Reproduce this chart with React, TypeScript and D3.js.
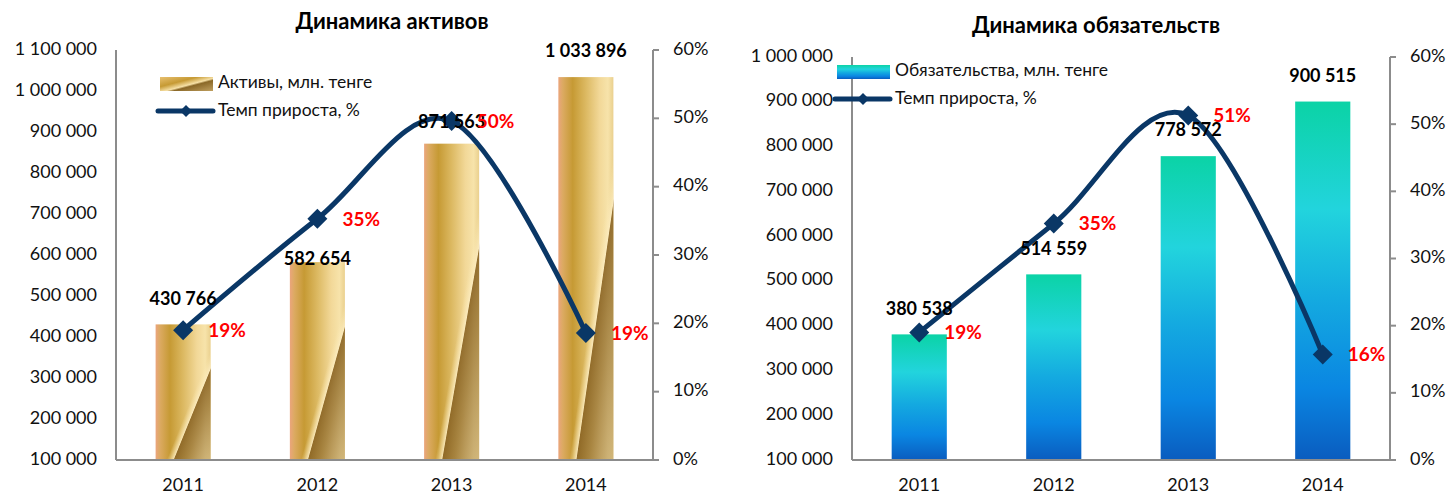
import React from 'react';
import * as d3 from 'd3';

// data
const years = ['2011', '2012', '2013', '2014'];
const assets = [430766, 582654, 871563, 1033896];
const assetsGrowth = [0.19, 0.353, 0.496, 0.186];
const liabilities = [380538, 514559, 778572, 900515];
const liabilitiesGrowth = [0.19, 0.352, 0.513, 0.157];
const assetsTicks = d3.range(100000, 1100001, 100000);
const liabilitiesTicks = d3.range(100000, 1000001, 100000);
const pctTicks = [0, 0.1, 0.2, 0.3, 0.4, 0.5, 0.6];

const FONT = 'Lato, Carlito, Calibri, sans-serif';
const AXIS = '#8c8c8c';
const LINE = '#0a3766';

const fmtNum = (v: number) => d3.format(',')(v).replace(/,/g, ' ');
const fmtPct = d3.format('.0%');

interface ChartProps {
  title: string;
  titleX: number;
  titleY: number;
  values: number[];
  growth: number[];
  ticks: number[];
  left: number;
  right: number;
  top: number;
  bottom: number;
  fill: string;
  shade?: string;
  legendFill: string;
  legendText: string;
  legendX: number;
  legendY: number;
  lift: number[];
}

const Chart: React.FC<ChartProps> = ({
  title, titleX, titleY, values, growth, ticks, left, right, top, bottom,
  fill, shade, legendFill, legendText, legendX, legendY, lift
}) => {
  const x = d3.scaleBand().domain(years).range([left, right]).padding(0);
  const y = d3.scaleLinear().domain([ticks[0], ticks[ticks.length - 1]]).range([bottom, top]);
  const yp = d3.scaleLinear().domain([0, 0.6]).range([bottom, top]);
  const bw = x.bandwidth() * 0.41;
  const cx = (d: string) => (x(d) as number) + x.bandwidth() / 2;

  const pts: [number, number][] = years.map((d, i) => [cx(d), yp(growth[i])]);
  const line = d3.line().curve(d3.curveCardinal.tension(0))(pts) as string;

  const diamond = (px: number, py: number, r: number) =>
    `M${px},${py - r}L${px + r},${py}L${px},${py + r}L${px - r},${py}Z`;

  return (
    <g fontFamily={FONT}>
      <text x={titleX} y={titleY} textAnchor="middle" fontSize={22} fontWeight="bold" dominantBaseline="middle">{title}</text>

      {/* bars */}
      {years.map((d, i) => (
        <g key={d}>
          <rect x={cx(d) - bw / 2} y={y(values[i])} width={bw} height={bottom - y(values[i])} fill={fill} />
          {shade && (
            <rect x={cx(d) - bw / 2} y={y(values[i])} width={bw} height={bottom - y(values[i])} fill={shade} />
          )}
        </g>
      ))}

      {/* axes */}
      <line x1={left} x2={left} y1={top} y2={bottom} stroke={AXIS} strokeWidth={2} />
      <line x1={right} x2={right} y1={top} y2={bottom} stroke={AXIS} strokeWidth={2} />
      <line x1={left} x2={right + 6} y1={bottom} y2={bottom} stroke={AXIS} strokeWidth={2} />
      {ticks.map(t => (
        <text key={t} x={left - 19} y={y(t)} textAnchor="end" dominantBaseline="middle" fontSize={18} fill="#111">{fmtNum(t)}</text>
      ))}
      {pctTicks.map(t => (
        <g key={t}>
          <line x1={right} x2={right + 6} y1={yp(t)} y2={yp(t)} stroke={AXIS} strokeWidth={2} />
          <text x={right + 20} y={yp(t)} dominantBaseline="middle" fontSize={18} fill="#111">{fmtPct(t)}</text>
        </g>
      ))}
      {years.map(d => (
        <text key={d} x={cx(d)} y={bottom + 26} textAnchor="middle" dominantBaseline="middle" fontSize={18} fill="#111">{d}</text>
      ))}

      {/* growth line */}
      <path d={line} fill="none" stroke={LINE} strokeWidth={5} strokeLinejoin="round" />
      {pts.map(([px, py], i) => (
        <path key={i} d={diamond(px, py, 10)} fill={LINE} />
      ))}

      {/* value labels */}
      {years.map((d, i) => (
        <text key={d} x={cx(d)} y={y(values[i]) - lift[i]} textAnchor="middle" dominantBaseline="middle" fontSize={18} fontWeight="bold" fill="#000">{fmtNum(values[i])}</text>
      ))}
      {pts.map(([px, py], i) => (
        <text key={i} x={px + 25} y={py + 2} dominantBaseline="middle" fontSize={19} fontWeight="bold" fill="#ff0000">{fmtPct(growth[i])}</text>
      ))}

      {/* legend */}
      <rect x={legendX} y={legendY} width={53} height={14} fill={legendFill} />
      <text x={legendX + 58} y={legendY + 7} dominantBaseline="middle" fontSize={17.5} fill="#111">{legendText}</text>
      <line x1={legendX - 2} x2={legendX + 53} y1={legendY + 34} y2={legendY + 34} stroke={LINE} strokeWidth={5} strokeLinecap="round" />
      <path d={diamond(legendX + 26, legendY + 34, 6)} fill={LINE} />
      <text x={legendX + 58} y={legendY + 35} dominantBaseline="middle" fontSize={17.5} fill="#111">Темп прироста, %</text>
    </g>
  );
};

export default function App() {
  return (
    <svg width={1448} height={496} style={{ position: 'absolute', left: 0, top: 0, background: '#fff' }}>
      <defs>
        <linearGradient id="gold" x1="0" y1="0" x2="1" y2="0">
          <stop offset="0" stopColor="#eba57d" />
          <stop offset="0.08" stopColor="#dcaa62" />
          <stop offset="0.26" stopColor="#c69a34" />
          <stop offset="0.5" stopColor="#dcb962" />
          <stop offset="0.75" stopColor="#f2d898" />
          <stop offset="0.9" stopColor="#f7e3aa" />
          <stop offset="1" stopColor="#ead08e" />
        </linearGradient>
        <linearGradient id="goldShade" x1="0" y1="0" x2="1" y2="1">
          <stop offset="0" stopColor="#fbe8b0" stopOpacity={0} />
          <stop offset="0.6" stopColor="#fbe8b0" stopOpacity={0} />
          <stop offset="0.66" stopColor="#fcecc0" stopOpacity={0.85} />
          <stop offset="0.668" stopColor="#8a6424" stopOpacity={0.9} />
          <stop offset="0.78" stopColor="#9a7634" stopOpacity={0.8} />
          <stop offset="1" stopColor="#c8ac70" stopOpacity={0.7} />
        </linearGradient>
        <linearGradient id="goldLegend" x1="0" y1="0" x2="1" y2="1">
          <stop offset="0" stopColor="#e8c070" />
          <stop offset="0.35" stopColor="#c69a34" />
          <stop offset="0.55" stopColor="#f6e0a6" />
          <stop offset="0.62" stopColor="#8a6828" />
          <stop offset="1" stopColor="#c0a060" />
        </linearGradient>
        <linearGradient id="blue" x1="0" y1="0" x2="0" y2="1">
          <stop offset="0" stopColor="#0bd3a6" />
          <stop offset="0.3" stopColor="#22d4dd" />
          <stop offset="0.55" stopColor="#14aae0" />
          <stop offset="0.8" stopColor="#0a86e2" />
          <stop offset="1" stopColor="#0a5cbf" />
        </linearGradient>
      </defs>
      <Chart
        title="Динамика активов" titleX={392} titleY={23}
        values={assets} growth={assetsGrowth} ticks={assetsTicks}
        left={116} right={653} top={50} bottom={460}
        fill="url(#gold)" shade="url(#goldShade)" legendFill="url(#goldLegend)"
        legendText="Активы, млн. тенге" legendX={160} legendY={77}
        lift={[24, 2, 20, 25]}
      />
      <Chart
        title="Динамика обязательств" titleX={1096} titleY={27}
        values={liabilities} growth={liabilitiesGrowth} ticks={liabilitiesTicks}
        left={852} right={1390} top={57} bottom={460}
        fill="url(#blue)" legendFill="url(#blue)"
        legendText="Обязательства, млн. тенге" legendX={837} legendY={65}
        lift={[24, 24, 25, 24]}
      />
    </svg>
  );
}
